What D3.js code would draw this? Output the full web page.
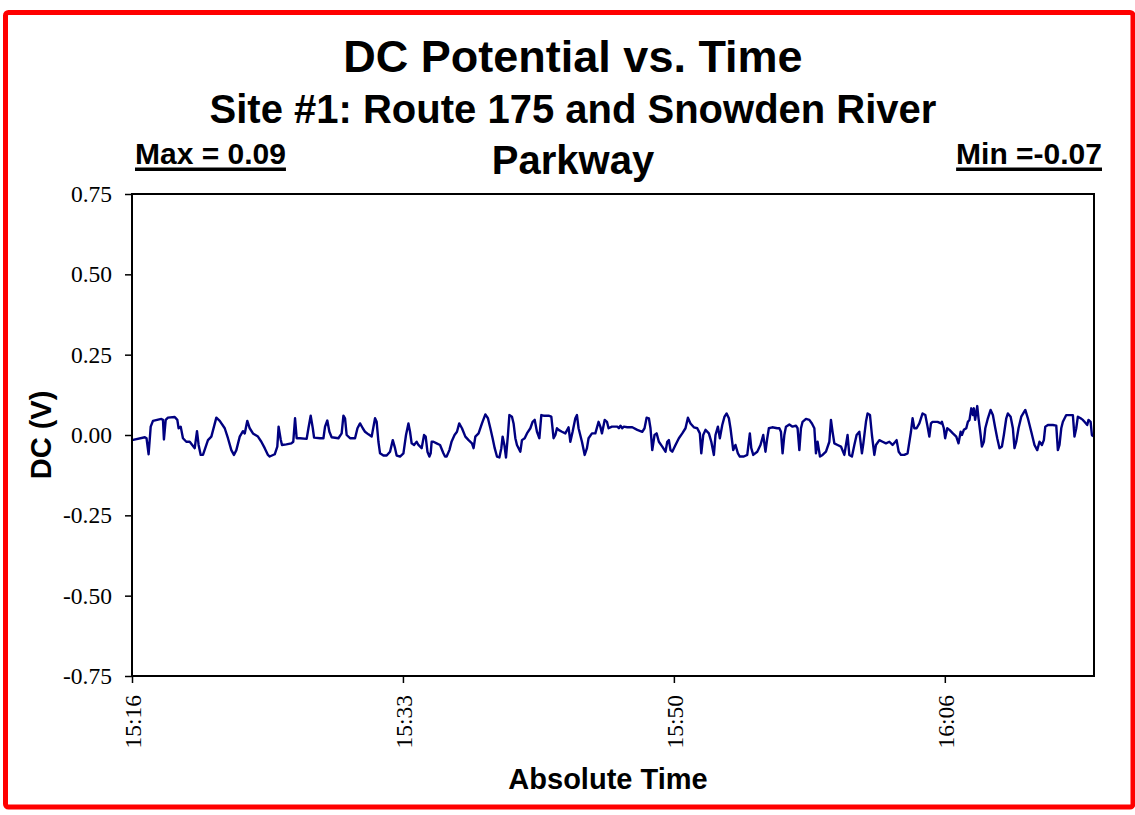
<!DOCTYPE html>
<html>
<head>
<meta charset="utf-8">
<script src="https://cdn.jsdelivr.net/npm/d3@7"></script>
<style>
  body { margin: 0; background: #fff; }
  svg { display: block; }
  .serif { font-family: "Times New Roman", "Liberation Serif", serif; font-weight: normal; }
  .sans { font-family: Arial, "Liberation Sans", sans-serif; font-weight: bold; }
</style>
</head>
<body>
<div id="chart"></div>
<script>
// minutes after 15:16, DC potential in volts
const dcReadings = [
  [0.0,-0.016],[0.8,-0.007],[0.9,-0.010],[1.03,-0.060],[1.16,0.026],[1.30,0.044],[1.82,0.050],[1.92,0.047],
  [1.98,-0.014],[2.09,0.047],[2.23,0.054],[2.65,0.056],[2.81,0.047],[2.89,0.021],[3.02,0.026],[3.16,-0.010],
  [3.37,-0.021],[3.58,-0.021],[3.89,-0.041],[4.03,0.012],[4.13,-0.031],[4.26,-0.062],[4.40,-0.062],[4.71,-0.016],
  [4.92,-0.005],[5.23,0.054],[5.44,0.044],[5.75,0.021],[5.95,-0.010],[6.16,-0.047],[6.32,-0.062],[6.47,-0.047],
  [6.68,-0.005],[6.88,0.012],[6.99,0.005],[7.15,0.044],[7.30,0.021],[7.50,0.005],[7.81,-0.005],[8.02,-0.021],
  [8.23,-0.041],[8.43,-0.062],[8.54,-0.067],[8.85,-0.060],[9.01,-0.036],[9.09,0.026],[9.22,-0.014],[9.30,-0.031],
  [9.57,-0.029],[9.88,-0.026],
  [10.0,-0.021],[10.11,0.052],[10.21,-0.010],[10.42,-0.010],[10.83,-0.012],[10.94,0.021],[11.08,0.060],[11.21,0.021],
  [11.29,-0.008],[11.66,-0.010],[11.87,-0.010],[11.97,0.026],[12.11,0.045],[12.24,0.010],[12.38,-0.007],[12.80,-0.010],
  [13.00,0.005],[13.11,0.060],[13.21,0.052],[13.31,0.000],[13.52,-0.010],[13.83,-0.010],[13.98,0.021],[14.14,0.036],
  [14.31,0.021],[14.45,0.010],[14.66,0.002],[14.86,-0.005],[15.07,0.052],[15.17,0.041],[15.28,-0.021],[15.38,-0.057],
  [15.59,-0.064],[15.79,-0.064],[16.00,-0.052],[16.17,-0.016],[16.31,-0.041],[16.41,-0.064],[16.62,-0.067],[16.83,-0.057],
  [16.99,0.000],[17.14,0.036],[17.24,0.010],[17.34,-0.026],[17.49,-0.031],[17.65,-0.021],[17.76,-0.031],[17.96,-0.041],
  [18.11,0.000],[18.21,-0.005],[18.32,-0.052],[18.44,-0.067],[18.52,-0.057],[18.58,-0.021],[18.69,-0.021],[18.89,-0.026],
  [19.10,-0.031],[19.31,-0.057],[19.41,-0.067],[19.51,-0.067],[19.68,-0.047],[19.82,-0.020],
  [20.0,0.000],[20.15,0.010],[20.29,0.036],[20.46,0.021],[20.67,-0.005],[20.87,-0.016],[21.08,-0.026],[21.18,-0.041],
  [21.29,-0.005],[21.49,0.005],[21.70,0.036],[21.91,0.064],[22.07,0.052],[22.22,0.021],[22.36,-0.010],[22.49,-0.041],
  [22.63,-0.067],[22.78,-0.070],[22.90,-0.041],[22.98,-0.005],[23.09,-0.031],[23.19,-0.070],[23.31,0.000],[23.40,0.062],
  [23.56,0.057],[23.66,0.036],[23.77,-0.010],[23.87,-0.031],[24.08,-0.052],[24.18,-0.016],[24.35,-0.010],[24.49,0.005],
  [24.70,0.021],[24.84,0.041],[24.97,0.047],[25.11,0.010],[25.26,-0.010],[25.38,0.062],[25.52,0.060],[25.83,0.060],
  [26.00,0.057],[26.14,-0.010],[26.25,0.000],[26.35,0.021],[26.45,0.016],[26.66,0.010],[26.87,0.005],[27.07,0.024],
  [27.18,-0.021],[27.32,0.010],[27.49,0.052],[27.59,0.062],[27.69,0.021],[27.90,-0.021],[28.07,-0.062],[28.21,-0.041],
  [28.31,-0.010],[28.52,0.005],[28.73,0.005],[28.93,0.041],[29.04,0.026],[29.14,0.005],[29.31,0.047],[29.45,0.041],
  [29.55,0.021],[29.76,0.026],[29.97,0.026],
  [30.09,0.026],[30.19,0.021],[30.29,0.029],[30.40,0.021],[30.50,0.026],[30.71,0.024],[31.02,0.024],[31.33,0.016],
  [31.64,0.010],[31.78,0.021],[31.91,0.054],[32.05,0.052],[32.15,0.021],[32.26,-0.047],[32.40,0.000],[32.53,0.005],
  [32.67,-0.021],[32.88,-0.036],[33.08,-0.052],[33.19,-0.021],[33.29,-0.016],[33.39,-0.047],[33.50,-0.052],[33.70,-0.031],
  [33.91,-0.010],[34.12,0.005],[34.32,0.021],[34.47,0.054],[34.63,0.036],[34.84,0.024],[35.05,0.021],[35.21,0.005],
  [35.30,-0.057],[35.42,0.000],[35.56,0.016],[35.77,0.005],[35.92,-0.021],[36.08,-0.062],[36.18,0.000],[36.33,0.026],
  [36.45,-0.010],[36.60,0.031],[36.74,0.057],[36.87,0.067],[37.01,0.052],[37.11,0.021],[37.28,-0.047],[37.42,-0.031],
  [37.57,-0.057],[37.69,-0.067],[37.94,-0.067],[38.15,-0.062],[38.31,0.005],[38.40,-0.041],[38.52,-0.062],[38.77,-0.052],
  [38.97,-0.031],[39.14,0.000],[39.28,-0.052],[39.39,-0.010],[39.49,0.021],[39.70,0.024],[40.01,0.021],
  [40.14,0.021],[40.24,0.010],[40.34,-0.057],[40.45,0.000],[40.55,0.026],[40.76,0.033],[40.96,0.026],[41.17,0.029],
  [41.27,0.021],[41.38,-0.047],[41.48,0.021],[41.58,0.041],[41.79,0.050],[42.00,0.047],[42.16,0.036],[42.31,0.021],
  [42.41,-0.057],[42.51,-0.021],[42.66,-0.067],[42.82,-0.062],[43.03,-0.052],[43.24,-0.021],[43.34,0.047],[43.44,0.010],
  [43.55,-0.026],[43.75,-0.031],[43.96,-0.036],[44.17,-0.062],[44.27,-0.031],[44.37,0.000],[44.48,-0.062],[44.64,-0.067],
  [44.79,-0.031],[44.93,0.000],[45.10,0.010],[45.26,-0.057],[45.35,-0.026],[45.51,0.041],[45.61,0.067],[45.76,0.062],
  [45.88,0.000],[46.03,-0.062],[46.13,-0.031],[46.34,-0.016],[46.54,-0.021],[46.75,-0.026],[46.96,-0.021],[47.16,-0.031],
  [47.33,-0.021],[47.41,-0.016],[47.54,-0.052],[47.68,-0.062],[47.89,-0.062],[48.09,-0.057],[48.30,0.010],[48.40,0.052],
  [48.51,0.021],[48.65,0.021],[48.82,0.036],[49.02,0.067],[49.19,0.062],[49.33,0.026],[49.44,-0.005],[49.54,0.036],
  [49.64,0.041],[49.95,0.041],[50.16,0.036],
  [50.22,0.041],[50.34,0.021],[50.42,-0.010],[50.55,0.021],[50.69,0.016],[50.90,0.005],[51.11,-0.005],[51.25,-0.026],
  [51.38,0.010],[51.46,0.000],[51.58,0.016],[51.73,0.021],[51.83,0.041],[51.93,0.047],[52.04,0.083],[52.14,0.062],
  [52.20,0.083],[52.28,0.047],[52.41,0.090],[52.49,0.052],[52.62,0.000],[52.70,-0.036],[52.82,-0.021],[52.91,0.021],
  [53.07,0.052],[53.24,0.078],[53.38,0.062],[53.53,0.021],[53.65,-0.010],[53.79,-0.041],[53.94,-0.036],[54.06,0.000],
  [54.21,0.052],[54.31,0.067],[54.48,0.057],[54.62,0.021],[54.72,-0.041],[54.83,-0.021],[54.97,0.021],[55.14,0.057],
  [55.39,0.078],[55.55,0.052],[55.76,0.010],[55.96,-0.031],[56.13,-0.047],[56.27,-0.021],[56.42,-0.031],[56.54,-0.016],
  [56.63,0.026],[56.79,0.031],[57.10,0.031],[57.31,0.029],[57.41,-0.047],[57.51,-0.031],[57.62,0.021],[57.72,0.041],
  [57.93,0.062],[58.13,0.062],[58.34,0.062],[58.44,-0.005],[58.55,0.021],[58.65,0.057],[58.82,0.052],[58.96,0.047],
  [59.06,0.041],[59.23,0.031],[59.31,0.047],[59.44,0.041],[59.52,0.000],[59.60,-0.005]
];

const yTickValues = [-0.75, -0.5, -0.25, 0, 0.25, 0.5, 0.75];
const xTickValues = [0, 16.8, 33.6, 50.4];          // minutes after 15:16
const xTickLabels = ["15:16", "15:33", "15:50", "16:06"];
const xExtent = [0, 59.65];
const yExtent = [-0.75, 0.75];

const WIDTH = 1135, HEIGHT = 815;
const PLOT = { left: 132, right: 1094, top: 194, bottom: 676 };

const svg = d3.select("#chart").append("svg")
    .attr("width", WIDTH)
    .attr("height", HEIGHT);

// red frame round the whole chart
svg.append("rect")
    .attr("x", 5.5).attr("y", 12.5)
    .attr("width", 1127.5).attr("height", 794.5)
    .attr("rx", 3)
    .attr("fill", "#fff")
    .attr("stroke", "#ff0000")
    .attr("stroke-width", 5);

const x = d3.scaleLinear().domain(xExtent).range([PLOT.left, PLOT.right]);
const y = d3.scaleLinear().domain(yExtent).range([PLOT.bottom, PLOT.top]);

// titles
svg.append("text").attr("class", "sans")
    .attr("x", 573).attr("y", 72)
    .attr("text-anchor", "middle").attr("font-size", 45)
    .text("DC Potential vs. Time");
svg.append("text").attr("class", "sans")
    .attr("x", 573).attr("y", 123)
    .attr("text-anchor", "middle").attr("font-size", 40)
    .text("Site #1: Route 175 and Snowden River");
svg.append("text").attr("class", "sans")
    .attr("x", 573).attr("y", 174)
    .attr("text-anchor", "middle").attr("font-size", 40)
    .text("Parkway");

// max / min notes, underlined by hand
const maxV = d3.max(dcReadings, d => d[1]);
const minV = d3.min(dcReadings, d => d[1]);

function underlined(txt, xPos, anchor) {
    const t = svg.append("text").attr("class", "sans")
        .attr("x", xPos).attr("y", 164)
        .attr("text-anchor", anchor).attr("font-size", 30)
        .text(txt);
    const w = t.node().getComputedTextLength();
    const x0 = anchor === "end" ? xPos - w : xPos;
    svg.append("rect")
        .attr("x", x0).attr("y", 167.5)
        .attr("width", w).attr("height", 3.5)
        .attr("fill", "#000");
}
underlined("Max = " + maxV.toFixed(2), 135, "start");
underlined("Min =" + minV.toFixed(2), 1102, "end");

// y axis
const yAxis = svg.append("g")
    .attr("transform", `translate(${PLOT.left},0)`)
    .call(d3.axisLeft(y).tickValues(yTickValues).tickSize(7).tickSizeOuter(0).tickPadding(13)
        .tickFormat(d => d.toFixed(2)));
yAxis.select(".domain").remove();
yAxis.selectAll("line").attr("stroke", "#000").attr("stroke-width", 1.5);
yAxis.selectAll("text")
    .attr("class", "serif")
    .attr("font-size", 23.5)
    .attr("fill", "#000");

// x axis
const xAxis = svg.append("g")
    .attr("transform", `translate(0,${PLOT.bottom})`)
    .call(d3.axisBottom(x).tickValues(xTickValues).tickSize(7).tickSizeOuter(0)
        .tickFormat((d, i) => xTickLabels[i]));
xAxis.select(".domain").remove();
xAxis.selectAll("line").attr("stroke", "#000").attr("stroke-width", 1.5);
xAxis.selectAll("text")
    .attr("class", "serif")
    .attr("font-size", 23.5)
    .attr("fill", "#000")
    .attr("transform", "rotate(-90)")
    .attr("text-anchor", "end")
    .attr("x", -19)
    .attr("y", 0)
    .attr("dy", "0.35em");

// the trace
const line = d3.line()
    .x(d => x(d[0]))
    .y(d => y(d[1]));

svg.append("path")
    .datum(dcReadings)
    .attr("d", line)
    .attr("fill", "none")
    .attr("stroke", "#000080")
    .attr("stroke-width", 2.4)
    .attr("stroke-linejoin", "round");

// plot frame
svg.append("rect")
    .attr("x", PLOT.left).attr("y", PLOT.top)
    .attr("width", PLOT.right - PLOT.left)
    .attr("height", PLOT.bottom - PLOT.top)
    .attr("fill", "none")
    .attr("stroke", "#000")
    .attr("stroke-width", 2);

// axis titles
svg.append("text").attr("class", "sans")
    .attr("x", 608).attr("y", 789)
    .attr("text-anchor", "middle").attr("font-size", 29)
    .text("Absolute Time");
svg.append("text").attr("class", "sans")
    .attr("transform", "translate(51,435) rotate(-90)")
    .attr("text-anchor", "middle").attr("font-size", 29)
    .text("DC (V)");
</script>
</body>
</html>
